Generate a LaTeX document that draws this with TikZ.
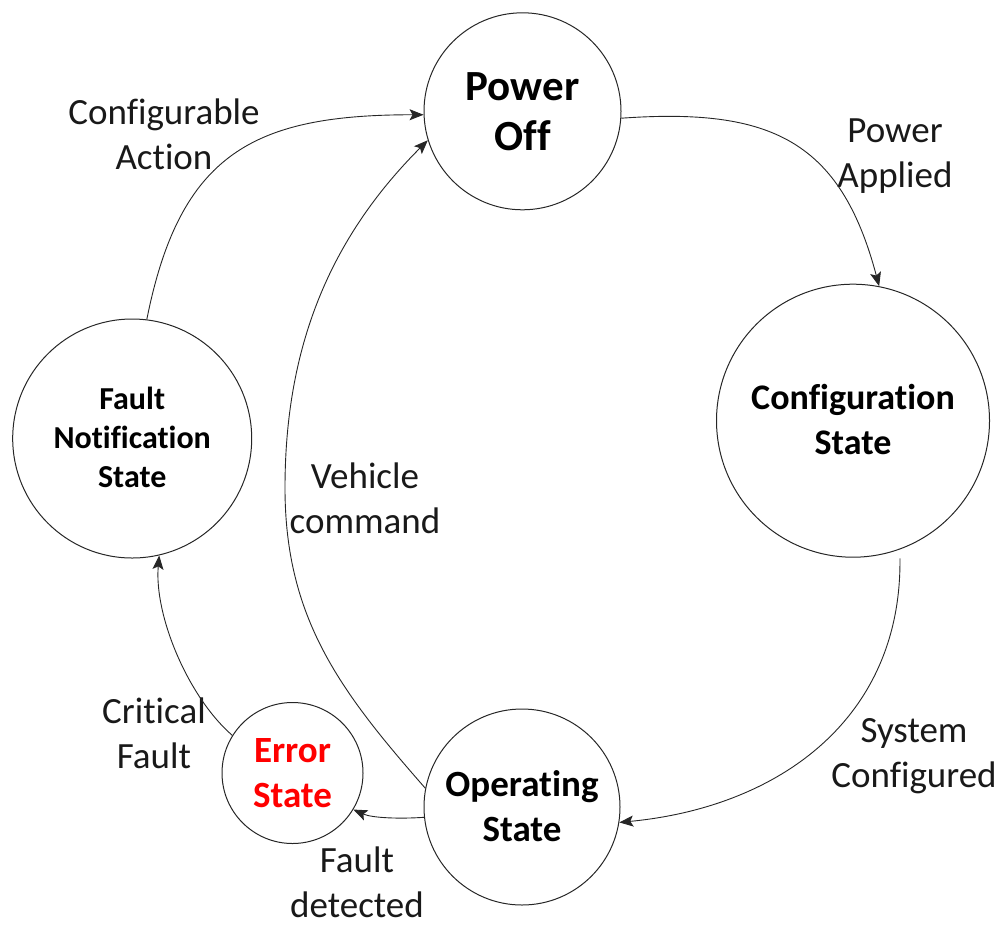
\documentclass[tikz,border=0pt]{standalone}
\usepackage{fontspec}
\setmainfont{Carlito}[RawFeature=-liga, RawFeature=-clig, RawFeature=-calt]
\usetikzlibrary{arrows.meta}
\newcommand{\lnstrut}{\rule[\dimexpr-0.5\baselineskip+0.32em\relax]{0pt}{\baselineskip}}
\newcommand{\nl}{\kern0pt }
\tikzset{
  state/.style={circle, draw=black!85, line width=1pt, inner sep=0pt, align=center},
  lbl/.style={inner sep=0pt, align=center, text=black!90, font=\fontsize{37}{45}\selectfont},
  conn/.style={draw=black!85, line width=0.9pt, -{Stealth[length=14pt,width=11pt,inset=3pt]}},
}
\begin{document}
\begin{tikzpicture}[x=1pt,y=-1pt]
\useasboundingbox (0,0) rectangle (1000,924);
% states
\node[state, minimum size=197pt, font=\bfseries\fontsize{43}{50}\selectfont] (po) at (522.5,111.3) {\lnstrut Power\\\lnstrut Of\nl f};
\node[state, minimum size=273pt, font=\bfseries\fontsize{36}{45}\selectfont] (conf) at (853,420.7) {\lnstrut Conf\nl igurat\nl ion\\\lnstrut State};
\node[state, minimum size=196pt, font=\bfseries\fontsize{37}{45}\selectfont] (op) at (522,807) {\lnstrut Operat\nl ing\\\lnstrut State};
\node[state, minimum size=141pt, text=red, font=\bfseries\fontsize{37}{45}\selectfont] (err) at (292.5,773) {\lnstrut Error\\\lnstrut State};
\node[state, minimum size=239pt, font=\bfseries\fontsize{32}{39}\selectfont] (fn) at (132.2,438.5) {\lnstrut Fault\\\lnstrut Not\nl if\nl icat\nl ion\\\lnstrut State};
% labels
\node[lbl] (lpa) at (895,153.5) {\lnstrut Power\\\lnstrut Applied};
\node[lbl] (lsc) at (914,753) {\lnstrut System\\\lnstrut Conf\nl igured};
\node[lbl, anchor=south] (lfd) at (357,917.5) {\lnstrut Fault\\detected};
\node[lbl] (lcf) at (154,734.5) {\lnstrut Crit\nl ical\\\lnstrut Fault};
\node[lbl] (lca) at (164,135.5) {\lnstrut Conf\nl igurable\\\lnstrut Act\nl ion};
\node[lbl] (lvc) at (365,499) {\lnstrut Vehicle\\\lnstrut command};
% connectors
\coordinate (vmid) at (285,488);
\draw[conn] (po.-4) .. controls (771,107.5) and (840.5,140.5) .. (conf.79.4);
\draw[conn, shorten <=9pt] (conf.-70) .. controls (901.7,718) and (780,807) .. (op.-9);
\draw[conn] (op.186.5) .. controls (400,819) and (372,818) .. (err.-31);
\draw[conn] (err.148) .. controls (187.7,696.6) and (154,615) .. (fn.-77);
\draw[conn] (fn.83) .. controls (180,153) and (254,114.7) .. (po.182);
\draw[conn] (op.169) .. controls (340,691) and (285,618) .. (vmid) .. controls (285,348) and (329,239) .. (po.197);
\end{tikzpicture}
\end{document}
